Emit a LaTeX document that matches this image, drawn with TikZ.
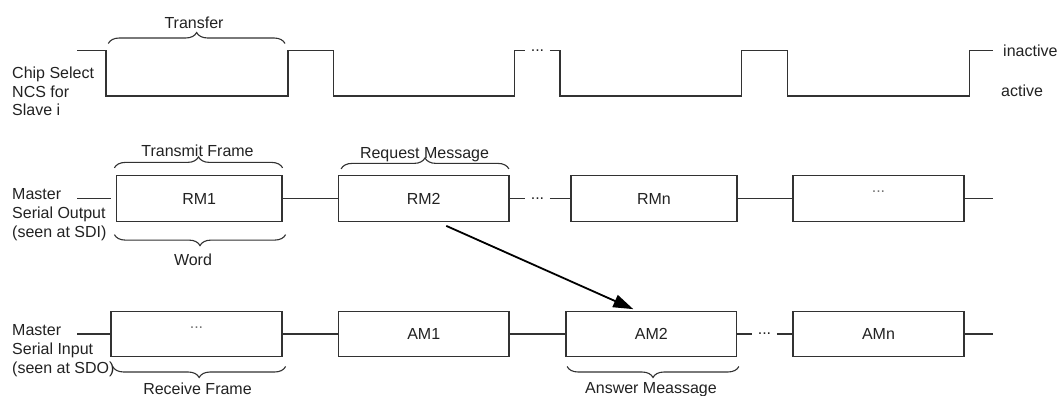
\documentclass[tikz,border=0pt]{standalone}
\usepackage{fontspec}
\setmainfont{Liberation Sans}
\usetikzlibrary{decorations.pathreplacing,calc,arrows.meta}
\definecolor{ink}{RGB}{34,34,34}
\definecolor{wirecol}{RGB}{50,50,50}
\begin{document}
\begin{tikzpicture}[x=1pt,y=-1pt,
  txt/.style={font=\fontsize{16pt}{19pt}\selectfont, text=ink, inner sep=0pt},
  lbl/.style={txt, align=left},
  frame/.style={draw=wirecol, line width=1.2pt, minimum height=45.5pt, inner sep=0pt,
                font=\fontsize{16pt}{19pt}\selectfont, text=ink},
  sig/.style={draw=wirecol, line width=1.2pt},
  gap/.style={txt, inner xsep=5.5pt, inner ysep=0pt},
  brc/.style={draw=wirecol, line width=1.1pt, decorate, decoration={brace, amplitude=11pt}},
  brcdown/.style={draw=wirecol, line width=1.1pt, decorate, decoration={brace, mirror, amplitude=11pt}},
  link/.style={draw=black, line width=1.8pt, -{Triangle[length=20pt,width=13pt]}}
]
\newcommand{\filler}{\smash{\raisebox{6pt}{\textcolor{black!55}{...}}}}
\fill[white] (0,0) rectangle (1061,396);
\useasboundingbox (0,0) rectangle (1061,396);

% ---------- chip select waveform ----------
\node[lbl, anchor=base west] (csLabel) at (12,116) {Chip Select\\NCS for\\Slave i};
\node[gap] (csGap) at (537.5,50.5) {...};
\draw[sig] (77,50.5) -- (106,50.5) -- (106,96) -- (288,96) -- (288,50.5) -- (333.3,50.5)
  -- (333.3,96) -- (514.7,96) -- (514.7,50.5) -- (csGap.west);
\draw[sig] (csGap.east) -- (560,50.5) -- (560,96) -- (741.7,96) -- (741.7,50.5) -- (787.7,50.5)
  -- (787.7,96) -- (969.3,96) -- (969.3,50.5) -- (992.7,50.5);
\node[txt, anchor=base west] (inactive) at (1003,57) {inactive};
\node[txt, anchor=base west] (active) at (1001,96) {active};
\draw[brc] (108.3,43.5) -- (285,43.5);
\node[txt, anchor=base] (transfer) at (194,28.3) {Transfer};

% ---------- master serial output ----------
\node[lbl, anchor=base west] (outLabel) at (12,237) {Master\\Serial Output\\(seen at SDI)};
\coordinate (rmIn) at (77,198.5);
\node[frame, minimum width=165.5pt] (RM1) at (199.25,198.5) {RM1};
\node[frame, minimum width=170.5pt] (RM2) at (423.75,198.5) {RM2};
\node[gap] (rmGap) at (537.5,198.5) {...};
\node[frame, minimum width=166pt] (RMn) at (654,198.5) {RMn};
\node[frame, minimum width=171pt] (RMx) at (878.5,198.5) {\filler};
\coordinate (rmOut) at (993,198.5);
\draw[sig] (rmIn) -- ($(RM1.west)+(-4.5,0)$);
\draw[sig] (RM1.east) -- (RM2.west);
\draw[sig] (RM2.east) -- (rmGap.west);
\draw[sig] (rmGap.east) -- (RMn.west);
\draw[sig] (RMn.east) -- (RMx.west);
\draw[sig] (RMx.east) -- (rmOut);

\draw[brc] ($(RM1.north west)+(-1.5,-7.25)$) -- ($(RM1.north east)+(0,-7.25)$);
\node[txt, anchor=base] (tframe) at (197.5,156) {Transmit Frame};
\draw[brc] ($(RM2.north west)+(3.2,-6.25)$) -- ($(RM2.north east)+(-0.7,-6.25)$);
\node[txt, anchor=base] (request) at (424.5,158) {Request Message};
\draw[brcdown] ($(RM1.south west)+(-1.5,12.75)$) -- ($(RM1.south east)+(3,12.75)$);
\node[txt, anchor=base] (word) at (193,265) {Word};

% ---------- master serial input ----------
\node[lbl, anchor=base west] (inLabel) at (12,373) {Master\\Serial Input\\(seen at SDO)};
\coordinate (amIn) at (77,334);
\node[frame, minimum width=171pt] (AMx) at (196.5,334) {\filler};
\node[frame, minimum width=170.5pt] (AM1) at (423.75,334) {AM1};
\node[frame, minimum width=170.7pt] (AM2) at (651.3,334) {AM2};
\node[gap] (amGap) at (764.5,334) {...};
\node[frame, minimum width=171pt] (AMn) at (878.5,334) {AMn};
\coordinate (amOut) at (993,334);
\draw[sig] (amIn) -- (AMx.west);
\draw[sig] (AMx.east) -- (AM1.west);
\draw[sig] (AM1.east) -- (AM2.west);
\draw[sig] (AM2.east) -- (amGap.west);
\draw[sig] (amGap.east) -- (AMn.west);
\draw[sig] (AMn.east) -- (amOut);

\draw[brcdown] ($(AMx.south west)+(2.3,9.15)$) -- ($(AMx.south east)+(3,9.15)$);
\node[txt, anchor=base] (rframe) at (197.5,394.5) {Receive Frame};
\draw[brcdown] ($(AM2.south west)+(1.75,9.15)$) -- ($(AM2.south east)+(1.65,9.15)$);
\node[txt, anchor=base] (answer) at (651,393) {Answer Meassage};

% ---------- request leads to answer ----------
\draw[link] ($(RM2.south)+(22.5,4)$) -- ($(AM2.north)+(-18,-1.5)$);
\end{tikzpicture}
\end{document}
